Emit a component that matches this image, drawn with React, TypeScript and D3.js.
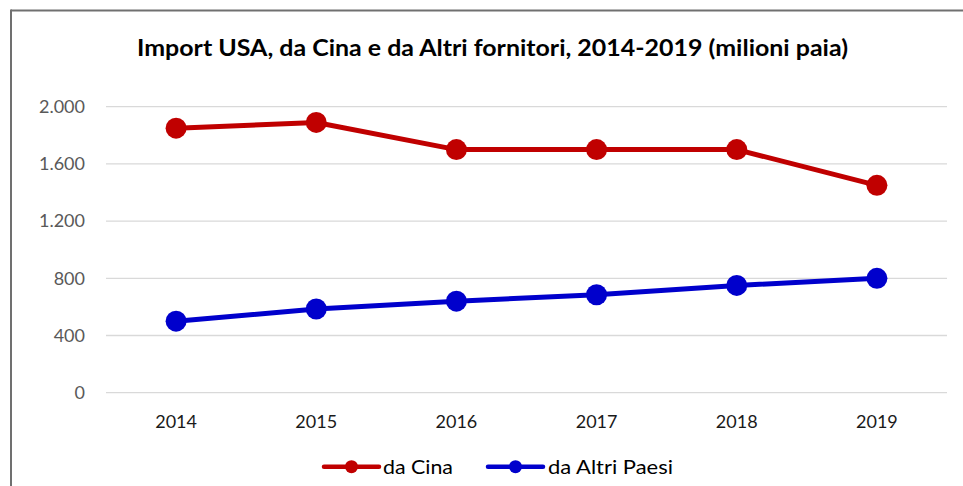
import React from "react";
import * as d3 from "d3";

const years = ["2014", "2015", "2016", "2017", "2018", "2019"];
const daCina = [1850, 1890, 1700, 1700, 1700, 1450];
const daAltri = [500, 585, 640, 685, 750, 800];
const yTicks = [0, 400, 800, 1200, 1600, 2000];
const seriesNames = ["da Cina", "da Altri Paesi"];
const seriesColors = ["#C00000", "#0000CC"];
const title = "Import USA, da Cina e da Altri fornitori, 2014-2019 (milioni paia)";

const W = 963;
const H = 486;
const plotLeft = 106;
const plotRight = 947;
const plotTop = 106.7;
const plotBottom = 392.7;
const FONT = "Lato, 'Open Sans', sans-serif";

export default function App() {
  const x = d3.scalePoint<string>().domain(years).range([plotLeft, plotRight]).padding(0.5);
  const y = d3.scaleLinear().domain([0, 2000]).range([plotBottom, plotTop]);
  const fmt = (v: number) => d3.format(",")(v).replace(/,/g, ".");
  const line = d3
    .line<number>()
    .x((_, i) => x(years[i]) as number)
    .y((d) => y(d));
  const series = [daCina, daAltri];

  const legendItems = [
    { x0: 324, textX: 383, w: 70 },
    { x0: 488, textX: 548, w: 125 },
  ];
  const legendY = 466.7;

  return (
    <div style={{ position: "absolute", left: 0, top: 0 }}>
      <svg width={W} height={H} style={{ display: "block", background: "#fff" }}>
        <rect x={0} y={0} width={W} height={H} fill="#fff" />
        {/* frame */}
        <line x1={11} x2={W} y1={10.5} y2={10.5} stroke="#707070" strokeWidth={2} />
        <line x1={11} x2={11} y1={9.5} y2={H} stroke="#707070" strokeWidth={2} />

        <text
          x={137}
          y={56}
          fontFamily={FONT}
          fontWeight="bold"
          fontSize={22}
          fill="#000"
          textLength={711}
          lengthAdjust="spacingAndGlyphs"
        >
          {title}
        </text>

        {yTicks.map((t) => (
          <g key={t}>
            <line x1={plotLeft} x2={plotRight} y1={y(t)} y2={y(t)} stroke="#D9D9D9" strokeWidth={1.3} />
            <text
              x={85}
              y={y(t)}
              dy="0.35em"
              textAnchor="end"
              fontFamily={FONT}
              fontSize={18}
              fill="#595959"
            >
              {fmt(t)}
            </text>
          </g>
        ))}

        {years.map((yr) => (
          <text
            key={yr}
            x={x(yr)}
            y={421.7}
            dy="0.35em"
            textAnchor="middle"
            fontFamily={FONT}
            fontSize={18}
            fill="#1a1a1a"
          >
            {yr}
          </text>
        ))}

        {series.map((s, si) => (
          <g key={si}>
            <path d={line(s) || ""} fill="none" stroke={seriesColors[si]} strokeWidth={5} strokeLinejoin="round" />
            {s.map((v, i) => (
              <circle key={i} cx={x(years[i])} cy={y(v)} r={10.5} fill={seriesColors[si]} />
            ))}
          </g>
        ))}

        {legendItems.map((it, i) => (
          <g key={i}>
            <line
              x1={it.x0}
              x2={it.x0 + 55}
              y1={legendY}
              y2={legendY}
              stroke={seriesColors[i]}
              strokeWidth={4.5}
              strokeLinecap="round"
            />
            <circle cx={it.x0 + 27.5} cy={legendY} r={6.5} fill={seriesColors[i]} />
            <text
              x={it.textX}
              y={legendY}
              dy="0.35em"
              fontFamily={FONT}
              fontSize={20}
              fill="#000"
              textLength={it.w}
              lengthAdjust="spacingAndGlyphs"
            >
              {seriesNames[i]}
            </text>
          </g>
        ))}
      </svg>
    </div>
  );
}
